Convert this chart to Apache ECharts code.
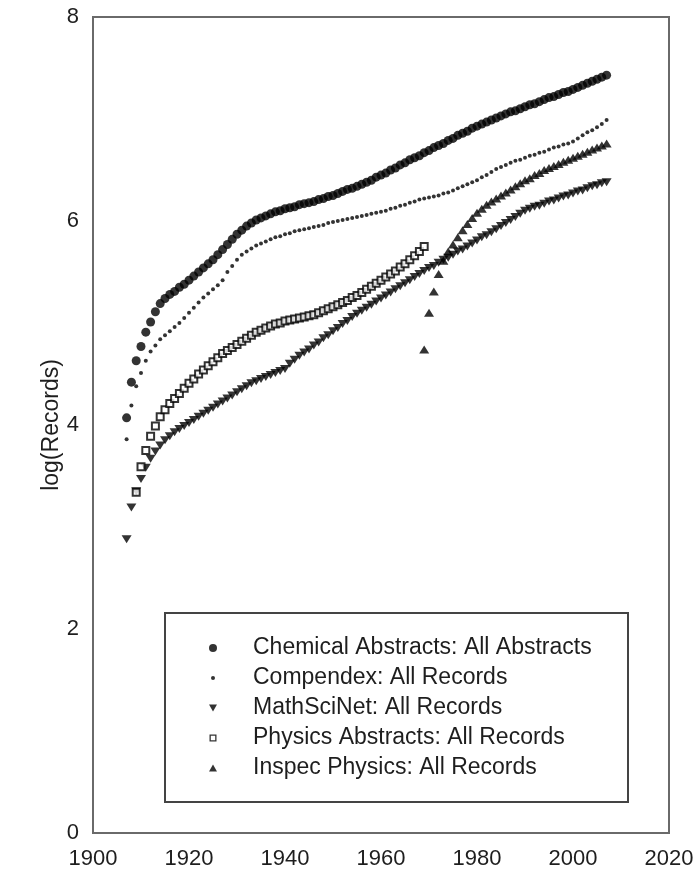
<!DOCTYPE html>
<html>
<head>
<meta charset="utf-8">
<script src="https://cdn.jsdelivr.net/npm/echarts@6/dist/echarts.min.js"></script>
<style>html,body{margin:0;padding:0;background:#fff}#c{width:697px;height:873px}</style>
</head>
<body>
<div id="c"></div>
<script>
const seriesNames = ['Chemical Abstracts: All Abstracts','Compendex: All Records','MathSciNet: All Records','Physics Abstracts: All Records','Inspec Physics: All Records'];
const xTicks = [1900,1920,1940,1960,1980,2000,2020];
const yTicks = [0,2,4,6,8];

const chemStart = 1907;
const chemValues = [4.07,4.42,4.63,4.77,4.91,5.01,5.11,5.19,5.24,5.28,5.31,5.35,5.38,5.42,5.46,5.50,5.54,5.58,5.62,5.67,5.72,5.77,5.82,5.87,5.91,5.95,5.98,6.01,6.03,6.05,6.07,6.09,6.10,6.12,6.13,6.14,6.16,6.17,6.18,6.19,6.21,6.22,6.24,6.25,6.27,6.29,6.31,6.32,6.34,6.36,6.38,6.40,6.43,6.45,6.47,6.50,6.52,6.55,6.57,6.60,6.62,6.64,6.67,6.69,6.72,6.74,6.76,6.79,6.81,6.84,6.86,6.88,6.91,6.93,6.95,6.97,6.99,7.01,7.03,7.05,7.07,7.08,7.10,7.12,7.14,7.15,7.17,7.19,7.21,7.22,7.24,7.26,7.27,7.29,7.31,7.33,7.35,7.37,7.39,7.41,7.43];

const compStart = 1907;
const compValues = [3.86,4.19,4.38,4.51,4.63,4.72,4.78,4.84,4.88,4.92,4.96,5.00,5.05,5.10,5.15,5.20,5.25,5.29,5.33,5.37,5.42,5.50,5.56,5.62,5.67,5.70,5.73,5.76,5.78,5.80,5.82,5.84,5.85,5.87,5.88,5.90,5.91,5.92,5.93,5.94,5.95,5.96,5.98,5.99,6.00,6.01,6.02,6.03,6.04,6.05,6.06,6.07,6.08,6.09,6.10,6.12,6.13,6.15,6.16,6.18,6.19,6.21,6.22,6.23,6.24,6.25,6.27,6.28,6.30,6.32,6.34,6.36,6.38,6.40,6.43,6.45,6.48,6.51,6.53,6.55,6.57,6.59,6.60,6.62,6.64,6.65,6.67,6.68,6.70,6.72,6.73,6.75,6.76,6.78,6.81,6.84,6.87,6.89,6.92,6.95,6.99];

const mathStart = 1907;
const mathValues = [2.88,3.19,3.35,3.47,3.58,3.67,3.74,3.80,3.85,3.89,3.93,3.96,3.99,4.02,4.05,4.08,4.11,4.14,4.17,4.20,4.23,4.26,4.29,4.32,4.35,4.38,4.41,4.43,4.45,4.47,4.49,4.51,4.53,4.55,4.60,4.64,4.68,4.71,4.74,4.78,4.81,4.85,4.88,4.92,4.95,4.99,5.02,5.06,5.09,5.12,5.15,5.18,5.21,5.24,5.27,5.30,5.33,5.36,5.39,5.42,5.45,5.48,5.51,5.54,5.56,5.59,5.62,5.64,5.67,5.70,5.72,5.75,5.78,5.81,5.84,5.86,5.89,5.92,5.95,5.98,6.01,6.04,6.07,6.10,6.12,6.14,6.15,6.17,6.19,6.20,6.22,6.24,6.25,6.27,6.29,6.30,6.32,6.34,6.35,6.37,6.38];

const physStart = 1909;
const physValues = [3.34,3.59,3.75,3.89,3.99,4.08,4.15,4.21,4.26,4.31,4.36,4.41,4.45,4.50,4.54,4.58,4.62,4.66,4.70,4.73,4.76,4.79,4.82,4.85,4.88,4.91,4.93,4.95,4.97,4.99,5.00,5.02,5.03,5.04,5.05,5.06,5.07,5.08,5.10,5.12,5.14,5.16,5.18,5.20,5.22,5.25,5.27,5.30,5.33,5.36,5.39,5.42,5.45,5.48,5.51,5.55,5.58,5.62,5.66,5.70,5.75];

const inspecStart = 1969;
const inspecValues = [4.74,5.10,5.31,5.48,5.61,5.70,5.77,5.84,5.91,5.97,6.03,6.08,6.12,6.16,6.19,6.22,6.25,6.28,6.31,6.34,6.37,6.40,6.42,6.45,6.47,6.50,6.52,6.54,6.56,6.58,6.60,6.62,6.64,6.66,6.68,6.70,6.72,6.74,6.76];

function pairs(start, vals){ return vals.map((v,i)=>[start+i, v]); }

const FONT = 'Liberation Sans, Arial, sans-serif';
const TXT = '#1e1e1e';

const icons = [
  'path://M0,0M48,24M9,12a4,4 0 1,0 8,0a4,4 0 1,0 -8,0Z',
  'path://M0,0M48,24M11,12a2,2 0 1,0 4,0a2,2 0 1,0 -4,0Z',
  'path://M0,0M48,24M9,8.5L17,8.5L13,15.5Z',
  'path://M0,0M48,24M9.5,8.5L16.5,8.5L16.5,15.5L9.5,15.5ZM10.8,9.8L10.8,14.2L15.2,14.2L15.2,9.8Z',
  'path://M0,0M48,24M9,15.5L17,15.5L13,8.5Z'
];

const chart = echarts.init(document.getElementById('c'), null, {renderer:'canvas'});
chart.setOption({
  animation: false,
  backgroundColor: '#fff',
  grid: { left: 93, right: 28, top: 17, bottom: 40, show: true, borderColor: '#6a6a6a', borderWidth: 2, containLabel: false },
  xAxis: {
    type: 'value', min: xTicks[0], max: xTicks[xTicks.length-1], interval: 20,
    axisLine: { show: true, lineStyle: { color: '#6a6a6a', width: 2 } },
    axisTick: { show: false }, splitLine: { show: false },
    axisLabel: { color: TXT, fontFamily: FONT, fontSize: 22, margin: 15, formatter: v => String(v) }
  },
  yAxis: {
    type: 'value', min: yTicks[0], max: yTicks[yTicks.length-1], interval: 2,
    name: 'log(Records)', nameLocation: 'middle', nameGap: 30, nameRotate: 90, nameMoveOverlap: false,
    nameTextStyle: { color: TXT, fontFamily: FONT, fontSize: 23 },
    axisLine: { show: true, lineStyle: { color: '#6a6a6a', width: 2 } },
    axisTick: { show: false }, splitLine: { show: false },
    axisLabel: { color: TXT, fontFamily: FONT, fontSize: 22, margin: 14 }
  },
  legend: {
    orient: 'vertical', left: 165, top: 613,
    padding: [23, 25, 22, 35],
    itemWidth: 48, itemHeight: 24, itemGap: 6,
    borderColor: '#444', borderWidth: 2,
    backgroundColor: '#fff',
    itemStyle: { borderWidth: 0 },
    textStyle: { color: TXT, fontFamily: FONT, fontSize: 23, lineHeight: 24, width: 350 },
    data: seriesNames.map((n,i)=>({ name: n, icon: icons[i] }))
  },
  series: [
    { name: seriesNames[0], type: 'scatter', symbol: 'circle', symbolSize: 9, itemStyle: { color: '#000' }, data: pairs(chemStart, chemValues) },
    { name: seriesNames[1], type: 'scatter', symbol: 'circle', symbolSize: 4, itemStyle: { color: '#000' }, data: pairs(compStart, compValues) },
    { name: seriesNames[2], type: 'scatter', symbol: 'triangle', symbolRotate: 180, symbolSize: [10,8], itemStyle: { color: '#000' }, data: pairs(mathStart, mathValues) },
    { name: seriesNames[3], type: 'scatter', symbol: 'emptyRect', symbolSize: 7, itemStyle: { color: '#000', borderWidth: 1.4 }, data: pairs(physStart, physValues) },
    { name: seriesNames[4], type: 'scatter', symbol: 'triangle', symbolSize: [10,8], itemStyle: { color: '#000' }, data: pairs(inspecStart, inspecValues) }
  ]
});
</script>
</body>
</html>
